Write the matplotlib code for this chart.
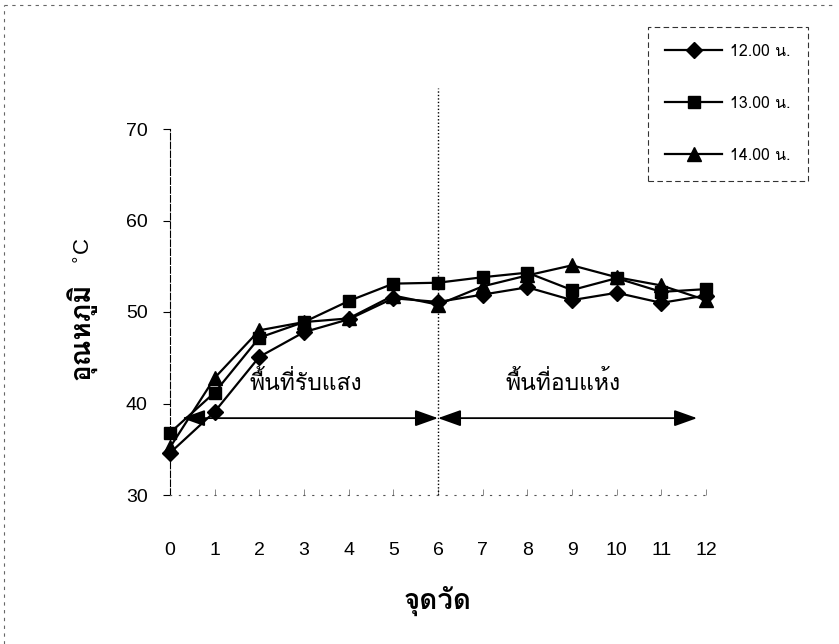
import matplotlib
matplotlib.use('Agg')
import matplotlib.pyplot as plt
from matplotlib import font_manager
from matplotlib.ft2font import FT2Font
from matplotlib.lines import Line2D

# measuring points along the dryer and temperatures at three times of day
points = list(range(13))
temp_12 = [34.6, 39.1, 45.1, 47.8, 49.2, 51.5, 51.1, 51.9, 52.7, 51.3, 52.1, 51.0, 51.8]
temp_13 = [36.8, 41.2, 47.2, 48.9, 51.2, 53.1, 53.2, 53.8, 54.3, 52.4, 53.7, 52.2, 52.5]
temp_14 = [35.2, 42.8, 48.0, 48.9, 49.3, 51.8, 50.8, 52.8, 54.0, 55.1, 53.8, 52.9, 51.3]
series_labels = ['12.00 น.', '13.00 น.', '14.00 น.']
zone_labels = ['พื้นที่รับแสง', 'พื้นที่อบแห้ง']


def thai_family():
    # first installed font that carries Thai glyphs
    for f in font_manager.fontManager.ttflist:
        try:
            if 0x0E1E in FT2Font(f.fname).get_charmap():
                return f.name
        except Exception:
            pass
    return 'DejaVu Sans'


thai = thai_family()
fams = [thai, 'Liberation Sans', 'DejaVu Sans']
plt.rcParams['font.family'] = ['Liberation Sans', thai, 'DejaVu Sans']

fig = plt.figure(figsize=(8.39, 6.44), dpi=100)
ax = fig.add_axes([170 / 839, 1 - 495 / 644, (706 - 170) / 839, (495 - 129) / 644])

ax.plot(points, temp_12, color='black', lw=1.6, marker='D', ms=8, clip_on=False, label=series_labels[0])
ax.plot(points, temp_13, color='black', lw=1.6, marker='s', ms=9, clip_on=False, label=series_labels[1])
ax.plot(points, temp_14, color='black', lw=1.6, marker='^', ms=10, clip_on=False, label=series_labels[2])

ax.set_xlim(0, 12)
ax.set_ylim(30, 70)
ax.set_yticks([30, 40, 50, 60, 70])
ax.set_xticks(points)

for s in ['top', 'right']:
    ax.spines[s].set_visible(False)
ax.spines['left'].set_linestyle((0, (6, 2)))
ax.spines['left'].set_linewidth(0.8)
ax.spines['bottom'].set_linestyle((0, (1, 7)))
ax.spines['bottom'].set_color('#555555')
ax.spines['bottom'].set_linewidth(0.8)

ax.tick_params(axis='y', direction='out', length=5, width=0.8, pad=11, labelsize=14)
ax.tick_params(axis='x', direction='in', length=4, width=0.6, color='#777777', pad=34, labelsize=14)

# y title: Thai word large, unit smaller, stacked along the rotated axis
ax.text(-2.0, 47.9, 'อุณหภูมิ', family=fams, fontsize=20, fontweight='bold',
        rotation=90, ha='center', va='center', clip_on=False)
ax.text(-1.93, 56.6, r'$^{\circ}$C', family='Liberation Sans', fontsize=16, rotation=90,
        ha='center', va='center', clip_on=False)
ax.set_xlabel('จุดวัด', family=fams, fontsize=20, fontweight='bold', labelpad=19)

# split between sun-collector and drying section
ax.plot([6, 6], [30, 74.5], color='black', lw=1.0, ls=(0, (1, 1.5)), clip_on=False)

arrow = dict(arrowstyle='<|-|>,head_length=0.7,head_width=0.25', color='black',
             lw=1.3, mutation_scale=20, shrinkA=0, shrinkB=0)
ax.annotate('', xy=(0.27, 38.4), xytext=(6, 38.4), arrowprops=arrow)
ax.annotate('', xy=(6, 38.4), xytext=(11.8, 38.4), arrowprops=arrow)

ax.text(3.05, 42.2, zone_labels[0], family=fams, fontsize=16.5, ha='center', va='center')
ax.text(8.8, 42.2, zone_labels[1], family=fams, fontsize=16.5, ha='center', va='center')

leg = fig.legend(loc='upper left', bbox_to_anchor=(648 / 839, 1 - 27 / 644),
                 prop={'family': fams, 'size': 11.5}, handlelength=3.6, labelspacing=2.25,
                 borderpad=1.06, handletextpad=0.5, borderaxespad=0,
                 fancybox=False, frameon=True)
frame = leg.get_frame()
frame.set_edgecolor('black')
frame.set_linewidth(0.8)
frame.set_linestyle((0, (5, 3)))

# scanned page border
fig.add_artist(Line2D([0.005, 0.995], [0.992, 0.992], color='#666666', lw=0.8, ls=(0, (3, 4))))
fig.add_artist(Line2D([0.005, 0.005], [0.0, 0.992], color='#666666', lw=0.8, ls=(0, (3, 4))))

fig.savefig('out.png', dpi=100)
